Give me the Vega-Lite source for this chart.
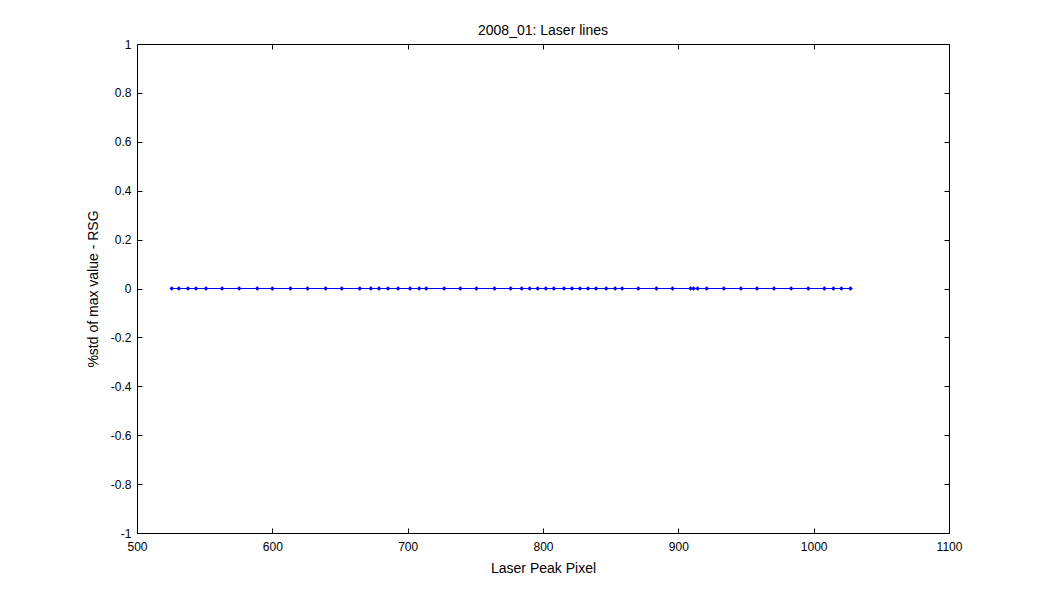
{
  "$schema": "https://vega.github.io/schema/vega-lite/v6.json",
  "width": 812,
  "height": 489,
  "autosize": {"type": "none"},
  "padding": {"left": 137, "top": 44, "right": 101, "bottom": 67},
  "background": "white",
  "title": {"text": "2008_01: Laser lines", "font": "Liberation Sans", "fontSize": 14, "fontWeight": "normal", "color": "black", "offset": 0},
  "config": {
    "view": {"stroke": "black", "strokeWidth": 1},
    "axis": {"font": "Liberation Sans", "labelFont": "Liberation Sans", "titleFont": "Liberation Sans", "labelFontSize": 12, "titleFontSize": 14, "titleFontWeight": "normal", "labelColor": "black", "titleColor": "black", "domainColor": "black", "tickColor": "black", "grid": false, "labelFlush": false, "labelOverlap": false}
  },
  "data": {"values": [
    {"pixel": 525.7, "std": 0}, {"pixel": 530.9, "std": 0}, {"pixel": 537.6, "std": 0}, {"pixel": 543.5, "std": 0},
    {"pixel": 551.0, "std": 0}, {"pixel": 562.9, "std": 0}, {"pixel": 575.5, "std": 0}, {"pixel": 588.9, "std": 0},
    {"pixel": 600.0, "std": 0}, {"pixel": 613.4, "std": 0}, {"pixel": 626.0, "std": 0}, {"pixel": 639.4, "std": 0},
    {"pixel": 651.3, "std": 0}, {"pixel": 664.6, "std": 0}, {"pixel": 672.8, "std": 0}, {"pixel": 678.8, "std": 0},
    {"pixel": 685.4, "std": 0}, {"pixel": 692.9, "std": 0}, {"pixel": 701.8, "std": 0}, {"pixel": 708.5, "std": 0},
    {"pixel": 713.7, "std": 0}, {"pixel": 727.0, "std": 0}, {"pixel": 738.9, "std": 0}, {"pixel": 750.8, "std": 0},
    {"pixel": 764.2, "std": 0}, {"pixel": 776.1, "std": 0}, {"pixel": 784.3, "std": 0}, {"pixel": 790.2, "std": 0},
    {"pixel": 796.1, "std": 0}, {"pixel": 802.1, "std": 0}, {"pixel": 808.0, "std": 0}, {"pixel": 815.5, "std": 0},
    {"pixel": 821.4, "std": 0}, {"pixel": 827.3, "std": 0}, {"pixel": 833.3, "std": 0}, {"pixel": 839.2, "std": 0},
    {"pixel": 846.7, "std": 0}, {"pixel": 853.3, "std": 0}, {"pixel": 858.5, "std": 0}, {"pixel": 870.4, "std": 0},
    {"pixel": 883.8, "std": 0}, {"pixel": 895.7, "std": 0}, {"pixel": 909.1, "std": 0}, {"pixel": 911.3, "std": 0},
    {"pixel": 914.3, "std": 0}, {"pixel": 921.0, "std": 0}, {"pixel": 933.6, "std": 0}, {"pixel": 946.2, "std": 0},
    {"pixel": 958.1, "std": 0}, {"pixel": 970.7, "std": 0}, {"pixel": 983.4, "std": 0}, {"pixel": 996.0, "std": 0},
    {"pixel": 1007.9, "std": 0}, {"pixel": 1014.6, "std": 0}, {"pixel": 1020.5, "std": 0}, {"pixel": 1027.2, "std": 0}
  ]},
  "resolve": {"axis": {"x": "independent", "y": "independent"}},
  "layer": [
    {
      "mark": {"type": "line", "color": "#0000ff", "strokeWidth": 1},
      "encoding": {
        "x": {"field": "pixel", "type": "quantitative", "scale": {"domain": [500, 1100], "nice": false, "zero": false},
              "axis": {"orient": "bottom", "title": "Laser Peak Pixel", "values": [500, 600, 700, 800, 900, 1000, 1100], "tickSize": -5, "labelPadding": 13, "titlePadding": 9, "domain": false, "format": "d"}},
        "y": {"field": "std", "type": "quantitative", "scale": {"domain": [-1, 1], "nice": false},
              "axis": {"orient": "left", "title": "%std of max value - RSG", "values": [-1, -0.8, -0.6, -0.4, -0.2, 0, 0.2, 0.4, 0.6, 0.8, 1], "tickSize": -5, "labelPadding": 11, "titlePadding": 10, "domain": false, "labelExpr": "datum.value + ''"}}
      }
    },
    {
      "mark": {"type": "point", "filled": true, "color": "#0000ff", "size": 22, "shape": "diamond", "opacity": 1},
      "encoding": {
        "x": {"field": "pixel", "type": "quantitative",
              "axis": {"orient": "top", "title": null, "labels": false, "values": [500, 600, 700, 800, 900, 1000, 1100], "tickSize": -5, "domain": false}},
        "y": {"field": "std", "type": "quantitative",
              "axis": {"orient": "right", "title": null, "labels": false, "values": [-1, -0.8, -0.6, -0.4, -0.2, 0, 0.2, 0.4, 0.6, 0.8, 1], "tickSize": -5, "domain": false}}
      }
    }
  ]
}
